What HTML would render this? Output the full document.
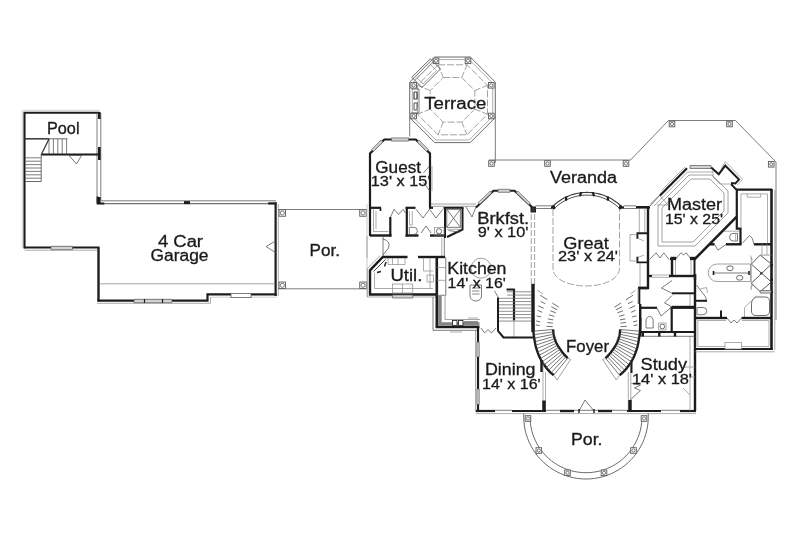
<!DOCTYPE html>
<html><head><meta charset="utf-8"><title>Floor Plan</title>
<style>
html,body{margin:0;padding:0;background:#fff;}
body{width:800px;height:535px;overflow:hidden;}
svg{display:block;filter:blur(0.35px);}
text{font-family:"Liberation Sans",sans-serif;fill:#1a1a1a;stroke:#1a1a1a;stroke-width:0.3px;}
</style></head><body>
<svg width="800" height="535" viewBox="0 0 800 535">
<rect width="800" height="535" fill="#ffffff"/>
<polyline points="24.50,248.50 24.50,112.70 99.50,112.70" fill="none" stroke="#1c1c1c" stroke-width="2.1" stroke-linejoin="miter"/>
<polyline points="22.30,248.00 22.30,110.30 100.00,110.30" fill="none" stroke="#c0c0c0" stroke-width="0.7"/>
<polyline points="97.00,113.00 97.00,203.00" fill="none" stroke="#5a5a5a" stroke-width="0.8"/>
<polyline points="100.80,113.00 100.80,200.00" fill="none" stroke="#5a5a5a" stroke-width="0.8"/>
<polyline points="99.30,112.00 99.30,119.00" fill="none" stroke="#1c1c1c" stroke-width="2.6" stroke-linejoin="miter"/>
<polyline points="99.30,147.00 99.30,160.00" fill="none" stroke="#1c1c1c" stroke-width="2.6" stroke-linejoin="miter"/>
<polyline points="99.30,197.00 99.30,204.00" fill="none" stroke="#1c1c1c" stroke-width="2.6" stroke-linejoin="miter"/>
<polyline points="41.00,154.50 99.50,154.50" fill="none" stroke="#1c1c1c" stroke-width="2.2" stroke-linejoin="miter"/>
<polyline points="24.50,138.80 67.50,138.80" fill="none" stroke="#5a5a5a" stroke-width="0.9"/>
<polyline points="25.00,138.80 49.00,138.80" fill="none" stroke="#333" stroke-width="1.3" stroke-linejoin="miter"/>
<polyline points="49.00,139.00 49.00,154.00" fill="none" stroke="#5a5a5a" stroke-width="0.8"/>
<polyline points="53.40,139.00 53.40,154.00" fill="none" stroke="#5a5a5a" stroke-width="0.8"/>
<polyline points="57.80,139.00 57.80,154.00" fill="none" stroke="#5a5a5a" stroke-width="0.8"/>
<polyline points="62.20,139.00 62.20,154.00" fill="none" stroke="#5a5a5a" stroke-width="0.8"/>
<polyline points="66.60,139.00 66.60,154.00" fill="none" stroke="#5a5a5a" stroke-width="0.8"/>
<polyline points="41.50,154.00 49.00,139.00" fill="none" stroke="#333" stroke-width="1.2"/>
<polyline points="41.20,154.00 41.20,181.50" fill="none" stroke="#5a5a5a" stroke-width="0.9"/>
<polyline points="25.00,181.50 41.20,181.50" fill="none" stroke="#5a5a5a" stroke-width="0.9"/>
<polyline points="25.50,157.80 41.00,157.80" fill="none" stroke="#5a5a5a" stroke-width="0.8"/>
<polyline points="25.50,161.20 41.00,161.20" fill="none" stroke="#5a5a5a" stroke-width="0.8"/>
<polyline points="25.50,164.60 41.00,164.60" fill="none" stroke="#5a5a5a" stroke-width="0.8"/>
<polyline points="25.50,168.00 41.00,168.00" fill="none" stroke="#5a5a5a" stroke-width="0.8"/>
<polyline points="25.50,171.40 41.00,171.40" fill="none" stroke="#5a5a5a" stroke-width="0.8"/>
<polyline points="25.50,174.80 41.00,174.80" fill="none" stroke="#5a5a5a" stroke-width="0.8"/>
<polyline points="25.50,178.20 41.00,178.20" fill="none" stroke="#5a5a5a" stroke-width="0.8"/>
<polyline points="69.00,155.50 81.50,155.50 76.50,164.00 69.00,155.50" fill="none" stroke="#5a5a5a" stroke-width="0.8"/>
<polyline points="100.00,200.80 276.00,200.80" fill="none" stroke="#5a5a5a" stroke-width="0.8"/>
<polyline points="100.00,203.60 276.00,203.60" fill="none" stroke="#707070" stroke-width="1.3"/>
<polyline points="97.60,196.50 97.60,203.40 104.30,203.40" fill="none" stroke="#1c1c1c" stroke-width="2.0" stroke-linejoin="miter"/>
<polyline points="184.00,202.60 190.00,202.60" fill="none" stroke="#1c1c1c" stroke-width="3" stroke-linejoin="miter"/>
<polyline points="268.20,203.40 276.60,203.40" fill="none" stroke="#1c1c1c" stroke-width="2.2" stroke-linejoin="miter"/>
<polyline points="275.60,202.50 275.60,296.00" fill="none" stroke="#1c1c1c" stroke-width="2.2" stroke-linejoin="miter"/>
<polyline points="278.30,204.00 278.30,296.00" fill="none" stroke="#8a8a8a" stroke-width="0.7"/>
<polyline points="276.70,294.40 251.00,294.40" fill="none" stroke="#1c1c1c" stroke-width="2.2" stroke-linejoin="miter"/>
<polyline points="231.00,294.40 207.50,294.40 207.50,300.60 97.50,300.60" fill="none" stroke="#1c1c1c" stroke-width="2.2" stroke-linejoin="miter"/>
<polyline points="98.50,301.50 98.50,247.50" fill="none" stroke="#1c1c1c" stroke-width="2.4" stroke-linejoin="miter"/>
<polyline points="24.50,247.50 99.50,247.50" fill="none" stroke="#1c1c1c" stroke-width="2.2" stroke-linejoin="miter"/>
<polyline points="24.50,250.20 97.00,250.20" fill="none" stroke="#8a8a8a" stroke-width="0.7"/>
<polyline points="97.00,303.30 210.50,303.30 210.50,297.00" fill="none" stroke="#8a8a8a" stroke-width="0.7"/>
<polyline points="211.00,297.20 231.00,297.20" fill="none" stroke="#bbb" stroke-width="0.7"/>
<polyline points="251.00,297.20 277.00,297.20" fill="none" stroke="#bbb" stroke-width="0.7"/>
<polygon points="51.00,249.70 72.50,249.70 72.50,246.30 51.00,246.30" fill="#d2d2d2" stroke="#5a5a5a" stroke-width="0.7"/>
<polygon points="134.00,302.70 172.00,302.70 172.00,299.30 134.00,299.30" fill="#d2d2d2" stroke="#5a5a5a" stroke-width="0.7"/>
<polyline points="144.50,299.00 144.50,303.00" fill="none" stroke="#1c1c1c" stroke-width="1.2"/>
<polyline points="162.50,299.00 162.50,303.00" fill="none" stroke="#1c1c1c" stroke-width="1.2"/>
<rect x="231" y="293.6" width="20" height="4.0" fill="#fff" stroke="#5a5a5a" stroke-width="0.8"/>
<polyline points="99.50,283.80 275.00,283.80" fill="none" stroke="#8a8a8a" stroke-width="0.8"/>
<polyline points="275.50,241.00 266.00,246.50 275.50,252.50" fill="none" stroke="#5a5a5a" stroke-width="0.8"/>
<text x="158" y="247.4" font-size="16" textLength="45" lengthAdjust="spacingAndGlyphs">4 Car</text>
<text x="150.5" y="261.2" font-size="16" textLength="58.0" lengthAdjust="spacingAndGlyphs">Garage</text>
<text x="47" y="133.8" font-size="16" textLength="32.5" lengthAdjust="spacingAndGlyphs">Pool</text>
<polyline points="278.00,209.50 367.00,209.50" fill="none" stroke="#5a5a5a" stroke-width="0.8"/>
<polyline points="278.00,288.80 367.00,288.80" fill="none" stroke="#5a5a5a" stroke-width="0.8"/>
<rect x="279.05" y="209.75" width="6.5" height="6.5" fill="#fff" stroke="#5a5a5a" stroke-width="0.9"/>
<circle cx="282.30" cy="213.00" r="2.05" fill="none" stroke="#5a5a5a" stroke-width="0.8"/>
<rect x="359.75" y="209.75" width="6.5" height="6.5" fill="#fff" stroke="#5a5a5a" stroke-width="0.9"/>
<circle cx="363.00" cy="213.00" r="2.05" fill="none" stroke="#5a5a5a" stroke-width="0.8"/>
<rect x="279.05" y="282.05" width="6.5" height="6.5" fill="#fff" stroke="#5a5a5a" stroke-width="0.9"/>
<circle cx="282.30" cy="285.30" r="2.05" fill="none" stroke="#5a5a5a" stroke-width="0.8"/>
<rect x="359.75" y="282.05" width="6.5" height="6.5" fill="#fff" stroke="#5a5a5a" stroke-width="0.9"/>
<circle cx="363.00" cy="285.30" r="2.05" fill="none" stroke="#5a5a5a" stroke-width="0.8"/>
<polyline points="367.00,204.00 367.00,297.00" fill="none" stroke="#b5b5b5" stroke-width="0.7"/>
<text x="309.6" y="256.1" font-size="16" textLength="30.399999999999977" lengthAdjust="spacingAndGlyphs">Por.</text>
<polygon points="434.77,57.00 470.23,57.00 495.30,82.07 495.30,117.53 470.23,142.60 434.77,142.60 409.70,117.53 409.70,82.07" fill="none" stroke="#5a5a5a" stroke-width="0.9"/>
<polygon points="435.85,59.60 469.15,59.60 492.70,83.15 492.70,116.45 469.15,140.00 435.85,140.00 412.30,116.45 412.30,83.15" fill="none" stroke="#8a8a8a" stroke-width="0.7"/>
<polygon points="438.00,64.80 467.00,64.80 487.50,85.30 487.50,114.30 467.00,134.80 438.00,134.80 417.50,114.30 417.50,85.30" fill="none" stroke="#8a8a8a" stroke-width="0.8" stroke-dasharray="7 2"/>
<polygon points="443.26,77.50 461.74,77.50 474.80,90.56 474.80,109.04 461.74,122.10 443.26,122.10 430.20,109.04 430.20,90.56" fill="none" stroke="#8a8a8a" stroke-width="0.8" stroke-dasharray="7 2"/>
<polyline points="443.26,77.50 438.00,64.80" fill="none" stroke="#8a8a8a" stroke-width="0.8" stroke-dasharray="6 2"/>
<polyline points="461.74,77.50 467.00,64.80" fill="none" stroke="#8a8a8a" stroke-width="0.8" stroke-dasharray="6 2"/>
<polyline points="474.80,90.56 487.50,85.30" fill="none" stroke="#8a8a8a" stroke-width="0.8" stroke-dasharray="6 2"/>
<polyline points="474.80,109.04 487.50,114.30" fill="none" stroke="#8a8a8a" stroke-width="0.8" stroke-dasharray="6 2"/>
<polyline points="461.74,122.10 467.00,134.80" fill="none" stroke="#8a8a8a" stroke-width="0.8" stroke-dasharray="6 2"/>
<polyline points="443.26,122.10 438.00,134.80" fill="none" stroke="#8a8a8a" stroke-width="0.8" stroke-dasharray="6 2"/>
<polyline points="430.20,109.04 417.50,114.30" fill="none" stroke="#8a8a8a" stroke-width="0.8" stroke-dasharray="6 2"/>
<polyline points="430.20,90.56 417.50,85.30" fill="none" stroke="#8a8a8a" stroke-width="0.8" stroke-dasharray="6 2"/>
<rect x="433.20" y="58.00" width="5.6" height="5.6" fill="#fff" stroke="#5a5a5a" stroke-width="0.9"/>
<circle cx="436.00" cy="60.80" r="1.60" fill="none" stroke="#5a5a5a" stroke-width="0.8"/>
<rect x="465.20" y="58.00" width="5.6" height="5.6" fill="#fff" stroke="#5a5a5a" stroke-width="0.9"/>
<circle cx="468.00" cy="60.80" r="1.60" fill="none" stroke="#5a5a5a" stroke-width="0.8"/>
<rect x="488.50" y="82.50" width="5.6" height="5.6" fill="#fff" stroke="#5a5a5a" stroke-width="0.9"/>
<circle cx="491.30" cy="85.30" r="1.60" fill="none" stroke="#5a5a5a" stroke-width="0.8"/>
<rect x="488.50" y="113.20" width="5.6" height="5.6" fill="#fff" stroke="#5a5a5a" stroke-width="0.9"/>
<circle cx="491.30" cy="116.00" r="1.60" fill="none" stroke="#5a5a5a" stroke-width="0.8"/>
<rect x="410.90" y="82.50" width="5.6" height="5.6" fill="#fff" stroke="#5a5a5a" stroke-width="0.9"/>
<circle cx="413.70" cy="85.30" r="1.60" fill="none" stroke="#5a5a5a" stroke-width="0.8"/>
<rect x="410.90" y="113.20" width="5.6" height="5.6" fill="#fff" stroke="#5a5a5a" stroke-width="0.9"/>
<circle cx="413.70" cy="116.00" r="1.60" fill="none" stroke="#5a5a5a" stroke-width="0.8"/>
<polygon points="411.80,77.30 430.30,58.80 440.50,69.00 422.00,87.50" fill="none" stroke="#5a5a5a" stroke-width="0.9"/>
<polygon points="417.00,78.00 430.50,64.50 436.50,70.50 423.00,84.00" fill="none" stroke="#8a8a8a" stroke-width="0.7"/>
<polyline points="414.50,80.00 419.50,75.00" fill="none" stroke="#8a8a8a" stroke-width="0.7"/>
<polyline points="433.00,61.50 428.00,66.50" fill="none" stroke="#8a8a8a" stroke-width="0.7"/>
<polyline points="411.50,89.00 419.00,89.00 419.00,113.00 411.50,113.00" fill="none" stroke="#5a5a5a" stroke-width="0.8"/>
<polyline points="414.00,92.00 417.00,92.00 417.00,99.00 414.00,99.00 414.00,92.00" fill="none" stroke="#444" stroke-width="1.2"/>
<polyline points="414.00,103.00 417.00,103.00 417.00,110.00 414.00,110.00 414.00,103.00" fill="none" stroke="#555" stroke-width="1.0"/>
<polyline points="409.70,117.00 409.70,136.50" fill="none" stroke="#5a5a5a" stroke-width="0.8"/>
<polyline points="495.30,117.00 495.30,163.00" fill="none" stroke="#5a5a5a" stroke-width="0.8"/>
<text x="424.3" y="109" font-size="16" textLength="62.0" lengthAdjust="spacingAndGlyphs">Terrace</text>
<polyline points="489.00,160.00 630.50,160.00 668.50,120.50 735.50,120.50 776.00,162.00 776.00,320.00" fill="none" stroke="#5a5a5a" stroke-width="0.8"/>
<rect x="488.70" y="160.70" width="5.6" height="5.6" fill="#fff" stroke="#5a5a5a" stroke-width="0.9"/>
<circle cx="491.50" cy="163.50" r="1.60" fill="none" stroke="#5a5a5a" stroke-width="0.8"/>
<rect x="544.70" y="160.70" width="5.6" height="5.6" fill="#fff" stroke="#5a5a5a" stroke-width="0.9"/>
<circle cx="547.50" cy="163.50" r="1.60" fill="none" stroke="#5a5a5a" stroke-width="0.8"/>
<rect x="623.20" y="160.70" width="5.6" height="5.6" fill="#fff" stroke="#5a5a5a" stroke-width="0.9"/>
<circle cx="626.00" cy="163.50" r="1.60" fill="none" stroke="#5a5a5a" stroke-width="0.8"/>
<rect x="669.20" y="121.20" width="5.6" height="5.6" fill="#fff" stroke="#5a5a5a" stroke-width="0.9"/>
<circle cx="672.00" cy="124.00" r="1.60" fill="none" stroke="#5a5a5a" stroke-width="0.8"/>
<rect x="726.70" y="121.20" width="5.6" height="5.6" fill="#fff" stroke="#5a5a5a" stroke-width="0.9"/>
<circle cx="729.50" cy="124.00" r="1.60" fill="none" stroke="#5a5a5a" stroke-width="0.8"/>
<rect x="768.40" y="161.50" width="5.6" height="5.6" fill="#fff" stroke="#5a5a5a" stroke-width="0.9"/>
<circle cx="771.20" cy="164.30" r="1.60" fill="none" stroke="#5a5a5a" stroke-width="0.8"/>
<text x="550" y="183" font-size="16" textLength="67" lengthAdjust="spacingAndGlyphs">Veranda</text>
<polyline points="370.00,236.00 370.00,153.50 384.30,139.50 391.50,139.50" fill="none" stroke="#1c1c1c" stroke-width="2.2" stroke-linejoin="miter"/>
<polyline points="408.50,139.50 415.80,139.50 430.00,153.50 430.00,207.50" fill="none" stroke="#1c1c1c" stroke-width="2.2" stroke-linejoin="miter"/>
<polygon points="391.50,141.10 408.50,141.10 408.50,137.90 391.50,137.90" fill="#d2d2d2" stroke="#5a5a5a" stroke-width="0.7"/>
<polygon points="373.42,151.42 382.92,141.92 381.08,140.08 371.58,149.58" fill="#d2d2d2" stroke="#5a5a5a" stroke-width="0.7"/>
<polygon points="417.08,141.92 426.58,151.42 428.42,149.58 418.92,140.08" fill="#d2d2d2" stroke="#5a5a5a" stroke-width="0.7"/>
<polyline points="429.50,166.00 423.50,172.80" fill="none" stroke="#5a5a5a" stroke-width="0.8"/>
<polyline points="423.50,182.50 429.50,190.80" fill="none" stroke="#5a5a5a" stroke-width="0.8"/>
<polyline points="432.00,166.00 432.00,191.00" fill="none" stroke="#8a8a8a" stroke-width="0.7"/>
<text x="375.3" y="173" font-size="16" textLength="45.69999999999999" lengthAdjust="spacingAndGlyphs">Guest</text>
<text x="370.8" y="186" font-size="14.3" textLength="59.69999999999999" lengthAdjust="spacingAndGlyphs">13' x 15'</text>
<polyline points="369.00,207.80 381.00,207.80" fill="none" stroke="#1c1c1c" stroke-width="2.2" stroke-linejoin="miter"/>
<polyline points="380.50,207.80 380.50,211.00" fill="none" stroke="#1c1c1c" stroke-width="1.6" stroke-linejoin="miter"/>
<polyline points="405.50,207.80 415.50,207.80" fill="none" stroke="#1c1c1c" stroke-width="2.2" stroke-linejoin="miter"/>
<polyline points="429.00,207.80 433.00,207.80" fill="none" stroke="#1c1c1c" stroke-width="2.2" stroke-linejoin="miter"/>
<polyline points="443.50,207.80 463.50,207.80" fill="none" stroke="#1c1c1c" stroke-width="2.0" stroke-linejoin="miter"/>
<polyline points="370.00,235.50 391.50,235.50" fill="none" stroke="#1c1c1c" stroke-width="2.4" stroke-linejoin="miter"/>
<polyline points="390.30,217.00 390.30,236.50" fill="none" stroke="#1c1c1c" stroke-width="2.2" stroke-linejoin="miter"/>
<polyline points="406.80,207.80 406.80,236.50" fill="none" stroke="#1c1c1c" stroke-width="2.2" stroke-linejoin="miter"/>
<polyline points="405.50,235.50 418.50,235.50" fill="none" stroke="#1c1c1c" stroke-width="2.4" stroke-linejoin="miter"/>
<polyline points="430.00,235.50 446.00,235.50" fill="none" stroke="#1c1c1c" stroke-width="2.4" stroke-linejoin="miter"/>
<polyline points="445.00,207.80 445.00,238.00" fill="none" stroke="#1c1c1c" stroke-width="2.0" stroke-linejoin="miter"/>
<polyline points="462.50,207.80 462.50,229.50 447.00,237.00" fill="none" stroke="#1c1c1c" stroke-width="2.0" stroke-linejoin="miter"/>
<polyline points="373.50,209.00 373.50,231.50 388.50,231.50" fill="none" stroke="#8a8a8a" stroke-width="0.7"/>
<polyline points="376.00,211.00 376.00,229.00" fill="none" stroke="#8a8a8a" stroke-width="0.7"/>
<polyline points="390.30,217.50 394.00,209.30 398.50,214.50 403.00,209.30 405.50,213.00" fill="none" stroke="#5a5a5a" stroke-width="0.8"/>
<polyline points="416.00,209.30 423.00,218.00 429.50,209.30 436.00,218.00 443.00,209.30" fill="none" stroke="#5a5a5a" stroke-width="0.8"/>
<polyline points="421.00,233.00 426.00,226.00 431.00,233.00" fill="none" stroke="#5a5a5a" stroke-width="0.8"/>
<polyline points="409.50,211.00 409.50,225.00 412.30,225.00 412.30,211.00" fill="none" stroke="#8a8a8a" stroke-width="0.7"/>
<path d="M409.3 227.3 h4.5 a3.6 3.6 0 0 1 0 7.2 h-4.5 z" fill="none" stroke="#5a5a5a" stroke-width="0.8"/>
<circle cx="439" cy="231.3" r="2.6" fill="none" stroke="#5a5a5a" stroke-width="0.9"/>
<rect x="434.5" y="227.5" width="9.5" height="7.5" fill="none" stroke="#8a8a8a" stroke-width="0.7"/>
<rect x="446.8" y="209.3" width="13.5" height="18.0" fill="none" stroke="#5a5a5a" stroke-width="0.8"/>
<polyline points="446.80,209.30 460.30,227.30" fill="none" stroke="#5a5a5a" stroke-width="0.8"/>
<polyline points="460.30,209.30 446.80,227.30" fill="none" stroke="#5a5a5a" stroke-width="0.8"/>
<polyline points="448.50,230.50 460.00,232.20" fill="none" stroke="#5a5a5a" stroke-width="0.8"/>
<polyline points="447.00,229.30 461.50,229.30" fill="none" stroke="#8a8a8a" stroke-width="0.7"/>
<polyline points="367.00,236.00 367.00,258.00" fill="none" stroke="#8a8a8a" stroke-width="0.7"/>
<polyline points="383.00,237.00 383.00,256.00" fill="none" stroke="#5a5a5a" stroke-width="0.8"/>
<path d="M383 239 Q391 241 388.5 248 L383 255" fill="none" stroke="#5a5a5a" stroke-width="0.8"/>
<polyline points="444.30,238.00 444.30,256.50" fill="none" stroke="#5a5a5a" stroke-width="0.8"/>
<polyline points="441.80,238.00 441.80,256.50" fill="none" stroke="#8a8a8a" stroke-width="0.7"/>
<polyline points="407.50,257.00 382.80,257.00 370.00,270.30 370.00,294.50 437.50,294.50" fill="none" stroke="#1c1c1c" stroke-width="2.4" stroke-linejoin="miter"/>
<polyline points="418.00,257.00 445.00,257.00" fill="none" stroke="#1c1c1c" stroke-width="2.4" stroke-linejoin="miter"/>
<polyline points="380.00,255.50 367.30,268.50 367.30,297.00 436.00,297.00" fill="none" stroke="#8a8a8a" stroke-width="0.7"/>
<polyline points="374.50,273.00 374.50,288.50 433.00,288.50" fill="none" stroke="#8a8a8a" stroke-width="0.7"/>
<polyline points="385.50,259.50 373.50,271.50" fill="none" stroke="#444" stroke-width="1.0"/>
<polyline points="386.00,262.00 384.50,266.50" fill="none" stroke="#1c1c1c" stroke-width="1.4" stroke-linejoin="miter"/>
<polyline points="377.00,272.50 381.00,271.50" fill="none" stroke="#1c1c1c" stroke-width="1.4" stroke-linejoin="miter"/>
<rect x="392.5" y="284" width="20.30000000000001" height="9" fill="none" stroke="#8a8a8a" stroke-width="0.7"/>
<polyline points="402.50,284.00 402.50,293.00" fill="none" stroke="#8a8a8a" stroke-width="0.7"/>
<polygon points="392.50,298.00 412.80,298.00 412.80,295.00 392.50,295.00" fill="#d2d2d2" stroke="#5a5a5a" stroke-width="0.7"/>
<polyline points="388.00,258.00 388.00,264.50 405.00,264.50 405.00,258.00" fill="none" stroke="#8a8a8a" stroke-width="0.7"/>
<polyline points="392.50,258.00 392.50,264.50" fill="none" stroke="#8a8a8a" stroke-width="0.7"/>
<polyline points="398.00,258.00 398.00,264.50" fill="none" stroke="#8a8a8a" stroke-width="0.7"/>
<polyline points="423.50,258.00 423.50,271.00 433.50,271.00" fill="none" stroke="#8a8a8a" stroke-width="0.7"/>
<polyline points="430.00,258.00 430.00,288.00" fill="none" stroke="#8a8a8a" stroke-width="0.7"/>
<polyline points="427.00,275.00 433.50,275.00 433.50,282.00 427.00,282.00 427.00,275.00" fill="none" stroke="#8a8a8a" stroke-width="0.7"/>
<text x="390.5" y="281.2" font-size="16" textLength="31.80000000000001" lengthAdjust="spacingAndGlyphs">Util.</text>
<polyline points="436.80,256.00 436.80,327.00 479.50,327.00" fill="none" stroke="#1c1c1c" stroke-width="2.6" stroke-linejoin="miter"/>
<polyline points="433.00,297.00 433.00,330.30 478.00,330.30" fill="none" stroke="#5a5a5a" stroke-width="0.8"/>
<polyline points="439.90,296.00 439.90,324.00 479.50,324.00" fill="none" stroke="#858585" stroke-width="3.6"/>
<polyline points="445.80,257.00 445.80,295.30 437.00,295.30" fill="none" stroke="#5a5a5a" stroke-width="0.8"/>
<polyline points="437.00,267.50 445.80,267.50" fill="none" stroke="#8a8a8a" stroke-width="0.7"/>
<polyline points="437.00,280.30 445.80,280.30" fill="none" stroke="#8a8a8a" stroke-width="0.7"/>
<polyline points="445.00,296.00 445.00,319.50 480.00,319.50" fill="none" stroke="#8a8a8a" stroke-width="0.8"/>
<rect x="452.5" y="320.5" width="4.5" height="5.0" fill="#fff" stroke="#1c1c1c" stroke-width="0.8"/>
<rect x="458.5" y="320.5" width="4.5" height="5.0" fill="#fff" stroke="#1c1c1c" stroke-width="0.8"/>
<polyline points="464.00,322.00 478.00,322.00" fill="none" stroke="#777" stroke-width="1.6"/>
<polyline points="468.00,318.00 478.00,318.00" fill="none" stroke="#8a8a8a" stroke-width="0.7"/>
<polyline points="450.00,332.00 462.00,332.00" fill="none" stroke="#8a8a8a" stroke-width="0.7"/>
<circle cx="481" cy="268.2" r="10" fill="none" stroke="#8a8a8a" stroke-width="0.8"/>
<path d="M470 285 h11.5 v11 a5.75 5 0 0 1 -11.5 0 z" fill="none" stroke="#5a5a5a" stroke-width="0.8"/>
<polyline points="472.00,288.00 479.50,288.00" fill="none" stroke="#5a5a5a" stroke-width="0.7"/>
<polyline points="472.00,291.00 479.50,291.00" fill="none" stroke="#5a5a5a" stroke-width="0.7"/>
<polyline points="472.00,294.00 479.50,294.00" fill="none" stroke="#5a5a5a" stroke-width="0.7"/>
<text x="447.3" y="273.5" font-size="16" textLength="59.19999999999999" lengthAdjust="spacingAndGlyphs">Kitchen</text>
<text x="447.6" y="287.6" font-size="14.3" textLength="58.19999999999999" lengthAdjust="spacingAndGlyphs">14' x 16'</text>
<polyline points="431.00,204.00 476.00,204.00" fill="none" stroke="#8a8a8a" stroke-width="0.8"/>
<polyline points="431.00,206.30 476.00,206.30" fill="none" stroke="#8a8a8a" stroke-width="0.8"/>
<polyline points="466.00,207.00 472.00,217.00 476.00,207.00" fill="none" stroke="#5a5a5a" stroke-width="0.8"/>
<polyline points="476.00,207.50 493.50,190.80 498.00,190.80" fill="none" stroke="#1c1c1c" stroke-width="2.0" stroke-linejoin="miter"/>
<polyline points="510.00,190.80 514.50,190.80 533.00,208.00" fill="none" stroke="#1c1c1c" stroke-width="2.0" stroke-linejoin="miter"/>
<polygon points="498.00,192.30 510.00,192.30 510.00,189.30 498.00,189.30" fill="#d2d2d2" stroke="#5a5a5a" stroke-width="0.7"/>
<polygon points="479.83,204.37 491.83,192.87 490.17,191.13 478.17,202.63" fill="#d2d2d2" stroke="#5a5a5a" stroke-width="0.7"/>
<polygon points="516.17,192.87 528.67,204.87 530.33,203.13 517.83,191.13" fill="#d2d2d2" stroke="#5a5a5a" stroke-width="0.7"/>
<rect x="531" y="207" width="4.5" height="5" fill="#333" stroke="#1c1c1c" stroke-width="1"/>
<polyline points="535.50,205.80 552.00,205.80" fill="none" stroke="#5a5a5a" stroke-width="0.8"/>
<polyline points="535.50,208.50 552.00,208.50" fill="none" stroke="#5a5a5a" stroke-width="0.8"/>
<text x="477.2" y="224" font-size="16" textLength="52.00000000000006" lengthAdjust="spacingAndGlyphs">Brkfst.</text>
<text x="477.8" y="237.1" font-size="14.3" textLength="50.49999999999994" lengthAdjust="spacingAndGlyphs">9' x 10'</text>
<polyline points="531.30,214.00 531.30,284.00" fill="none" stroke="#8a8a8a" stroke-width="0.8" stroke-dasharray="6 2"/>
<polyline points="534.60,214.00 534.60,284.00" fill="none" stroke="#8a8a8a" stroke-width="0.8" stroke-dasharray="6 2"/>
<polyline points="552.01,207.01 553.88,205.21 555.85,203.52 557.90,201.93 560.03,200.45 562.24,199.09 564.51,197.84 566.85,196.72 569.25,195.72 571.69,194.84 574.18,194.10 576.70,193.49 579.25,193.01 581.82,192.67 584.41,192.47 587.00,192.40 589.59,192.47 592.18,192.67 594.75,193.01 597.30,193.49 599.82,194.10 602.31,194.84 604.75,195.72 607.15,196.72 609.49,197.84 611.76,199.09 613.97,200.45 616.10,201.93 618.15,203.52 620.12,205.21 621.99,207.01" fill="none" stroke="#3a3a3a" stroke-width="1.1"/>
<polyline points="554.51,208.34 556.26,206.71 558.10,205.17 560.02,203.73 562.01,202.39 564.06,201.15 566.18,200.02 568.35,199.00 570.57,198.10 572.84,197.31 575.14,196.64 577.47,196.09 579.83,195.66 582.21,195.35 584.60,195.16 587.00,195.10 589.40,195.16 591.79,195.35 594.17,195.66 596.53,196.09 598.86,196.64 601.16,197.31 603.43,198.10 605.65,199.00 607.82,200.02 609.94,201.15 611.99,202.39 613.98,203.73 615.90,205.17 617.74,206.71 619.49,208.34" fill="none" stroke="#4a4a4a" stroke-width="1.0"/>
<polyline points="554.29,209.26 553.28,205.22" fill="none" stroke="#1c1c1c" stroke-width="2.2" stroke-linejoin="miter"/>
<polyline points="565.98,200.69 566.28,196.54" fill="none" stroke="#1c1c1c" stroke-width="2.2" stroke-linejoin="miter"/>
<polyline points="579.75,196.17 581.33,192.33" fill="none" stroke="#1c1c1c" stroke-width="2.2" stroke-linejoin="miter"/>
<polyline points="594.25,196.17 592.67,192.33" fill="none" stroke="#1c1c1c" stroke-width="2.2" stroke-linejoin="miter"/>
<polyline points="608.02,200.69 607.72,196.54" fill="none" stroke="#1c1c1c" stroke-width="2.2" stroke-linejoin="miter"/>
<polyline points="619.71,209.26 620.72,205.22" fill="none" stroke="#1c1c1c" stroke-width="2.2" stroke-linejoin="miter"/>
<polyline points="551.00,207.50 555.00,207.50" fill="none" stroke="#1c1c1c" stroke-width="2.4" stroke-linejoin="miter"/>
<polyline points="619.00,207.50 624.00,207.50" fill="none" stroke="#1c1c1c" stroke-width="2.4" stroke-linejoin="miter"/>
<polyline points="624.00,205.80 636.00,205.80" fill="none" stroke="#5a5a5a" stroke-width="0.8"/>
<polyline points="624.00,208.50 636.00,208.50" fill="none" stroke="#5a5a5a" stroke-width="0.8"/>
<polyline points="636.00,207.30 650.00,207.30" fill="none" stroke="#1c1c1c" stroke-width="2.6" stroke-linejoin="miter"/>
<path d="M553 209 V268 C553 280 570 286 586.2 286 C602 286 619.5 280 619.5 268 V209" fill="none" stroke="#8a8a8a" stroke-width="0.8" stroke-dasharray="7 2"/>
<text x="563.3" y="249" font-size="16" textLength="45.5" lengthAdjust="spacingAndGlyphs">Great</text>
<text x="558" y="261" font-size="14.3" textLength="60" lengthAdjust="spacingAndGlyphs">23' x 24'</text>
<polyline points="648.00,206.50 648.00,288.00 638.00,288.00" fill="none" stroke="#1c1c1c" stroke-width="2.4" stroke-linejoin="miter"/>
<polyline points="639.30,209.00 639.30,232.00" fill="none" stroke="#8a8a8a" stroke-width="0.7"/>
<polyline points="644.80,209.00 644.80,232.00" fill="none" stroke="#8a8a8a" stroke-width="0.7"/>
<polyline points="648.00,233.20 637.40,233.20 637.40,238.80" fill="none" stroke="#1c1c1c" stroke-width="1.9" stroke-linejoin="miter"/>
<polyline points="638.50,238.50 644.00,241.00" fill="none" stroke="#8a8a8a" stroke-width="0.7"/>
<polyline points="638.50,257.00 644.00,255.30" fill="none" stroke="#8a8a8a" stroke-width="0.7"/>
<polyline points="637.40,256.80 637.40,262.40 648.00,262.40" fill="none" stroke="#1c1c1c" stroke-width="1.9" stroke-linejoin="miter"/>
<polyline points="637.40,234.60 630.00,234.60 630.00,261.00 637.40,261.00" fill="none" stroke="#8a8a8a" stroke-width="0.7"/>
<polyline points="640.00,263.00 640.00,288.00" fill="none" stroke="#8a8a8a" stroke-width="0.7"/>
<polyline points="533.00,283.80 533.00,332.00" fill="none" stroke="#1c1c1c" stroke-width="3.4" stroke-linejoin="miter"/>
<polyline points="506.50,289.50 514.80,289.50" fill="none" stroke="#1c1c1c" stroke-width="2.0" stroke-linejoin="miter"/>
<polyline points="514.00,289.00 514.00,320.50" fill="none" stroke="#1c1c1c" stroke-width="2.2" stroke-linejoin="miter"/>
<polyline points="514.00,320.50 514.00,337.50" fill="none" stroke="#8a8a8a" stroke-width="0.7"/>
<polyline points="494.50,290.80 498.30,297.50" fill="none" stroke="#5a5a5a" stroke-width="0.8"/>
<polyline points="498.00,297.50 498.00,330.80 503.50,337.50 533.50,337.50" fill="none" stroke="#1c1c1c" stroke-width="2.0" stroke-linejoin="miter"/>
<polyline points="507.00,291.80 531.50,291.80" fill="none" stroke="#6a6a6a" stroke-width="0.75"/>
<polyline points="507.00,295.05 531.50,295.05" fill="none" stroke="#6a6a6a" stroke-width="0.75"/>
<polyline points="499.00,298.30 531.50,298.30" fill="none" stroke="#6a6a6a" stroke-width="0.75"/>
<polyline points="499.00,301.55 531.50,301.55" fill="none" stroke="#6a6a6a" stroke-width="0.75"/>
<polyline points="499.00,304.80 531.50,304.80" fill="none" stroke="#6a6a6a" stroke-width="0.75"/>
<polyline points="499.00,308.05 531.50,308.05" fill="none" stroke="#6a6a6a" stroke-width="0.75"/>
<polyline points="499.00,311.30 531.50,311.30" fill="none" stroke="#6a6a6a" stroke-width="0.75"/>
<polyline points="499.00,314.55 531.50,314.55" fill="none" stroke="#6a6a6a" stroke-width="0.75"/>
<polyline points="499.00,317.80 531.50,317.80" fill="none" stroke="#6a6a6a" stroke-width="0.75"/>
<polyline points="499.00,321.05 531.50,321.05" fill="none" stroke="#6a6a6a" stroke-width="0.75"/>
<polyline points="481.00,328.00 484.50,333.00 488.00,329.50 491.50,333.00 496.00,328.00" fill="none" stroke="#5a5a5a" stroke-width="0.8"/>
<polyline points="478.00,327.00 478.00,342.00" fill="none" stroke="#1c1c1c" stroke-width="2.2" stroke-linejoin="miter"/>
<polygon points="476.80,342.00 476.80,357.00 479.20,357.00 479.20,342.00" fill="#d2d2d2" stroke="#5a5a5a" stroke-width="0.7"/>
<polyline points="478.00,357.00 478.00,389.00" fill="none" stroke="#1c1c1c" stroke-width="2.2" stroke-linejoin="miter"/>
<polygon points="476.80,389.00 476.80,404.50 479.20,404.50 479.20,389.00" fill="#d2d2d2" stroke="#5a5a5a" stroke-width="0.7"/>
<polyline points="478.00,404.50 478.00,412.00" fill="none" stroke="#1c1c1c" stroke-width="2.2" stroke-linejoin="miter"/>
<polyline points="475.50,330.00 475.50,412.00" fill="none" stroke="#8a8a8a" stroke-width="0.7"/>
<text x="485" y="374.6" font-size="16" textLength="50.5" lengthAdjust="spacingAndGlyphs">Dining</text>
<text x="482" y="388.8" font-size="14.3" textLength="58.60000000000002" lengthAdjust="spacingAndGlyphs">14' x 16'</text>
<polyline points="533.00,318.00 533.10,325.00 533.30,331.20 533.30,331.20 533.34,331.52 533.39,331.92 533.45,332.38 533.51,332.90 533.58,333.47 533.65,334.07 533.73,334.70 533.81,335.36 533.90,336.02 534.00,336.69 534.10,337.35 534.20,338.00 534.31,338.65 534.41,339.32 534.52,340.01 534.64,340.71 534.76,341.43 534.88,342.16 535.01,342.89 535.15,343.62 535.30,344.35 535.46,345.08 535.62,345.79 535.80,346.50 535.99,347.20 536.19,347.92 536.41,348.63 536.63,349.35 536.86,350.06 537.10,350.77 537.34,351.48 537.59,352.17 537.84,352.86 538.10,353.52 538.35,354.17 538.60,354.80 538.85,355.41 539.10,356.00 539.35,356.57 539.61,357.13 539.86,357.67 540.12,358.21 540.39,358.73 540.66,359.25 540.93,359.77 541.22,360.28 541.50,360.79 541.80,361.30 542.11,361.81 542.42,362.32 542.75,362.83 543.09,363.34 543.43,363.84 543.77,364.33 544.11,364.82 544.46,365.30 544.80,365.76 545.14,366.22 545.47,366.67 545.80,367.10 546.12,367.52 546.43,367.92 546.73,368.31 547.04,368.70 547.34,369.07 547.64,369.43 547.94,369.79 548.24,370.14 548.55,370.48 548.86,370.82 549.18,371.16 549.50,371.50 549.85,371.84 550.22,372.20 550.61,372.56 551.02,372.92 551.43,373.28 551.83,373.62 552.22,373.96 552.59,374.27 552.93,374.55 553.24,374.81 553.50,375.02 553.70,375.20" fill="none" stroke="#1c1c1c" stroke-width="2.4" stroke-linejoin="miter"/>
<polyline points="553.10,329.50 553.13,329.74 553.16,330.05 553.19,330.41 553.23,330.81 553.28,331.25 553.33,331.71 553.38,332.19 553.43,332.68 553.49,333.16 553.56,333.63 553.63,334.08 553.70,334.50 553.78,334.90 553.86,335.29 553.94,335.68 554.03,336.06 554.12,336.44 554.22,336.82 554.32,337.20 554.43,337.57 554.54,337.95 554.65,338.33 554.77,338.71 554.90,339.10 555.03,339.49 555.17,339.88 555.31,340.28 555.46,340.67 555.61,341.07 555.76,341.47 555.92,341.86 556.09,342.26 556.26,342.65 556.43,343.04 556.61,343.42 556.80,343.80 556.99,344.17 557.18,344.53 557.37,344.88 557.57,345.23 557.77,345.57 557.98,345.92 558.20,346.26 558.42,346.61 558.65,346.97 558.89,347.34 559.14,347.71 559.40,348.10 559.67,348.50 559.96,348.92 560.25,349.34 560.55,349.78 560.86,350.22 561.18,350.66 561.51,351.11 561.84,351.56 562.17,352.00 562.51,352.44 562.86,352.87 563.20,353.30 563.56,353.73 563.96,354.19 564.38,354.66 564.81,355.14 565.25,355.61 565.69,356.08 566.11,356.52 566.51,356.94 566.88,357.33 567.20,357.67 567.48,357.96 567.70,358.20" fill="none" stroke="#1c1c1c" stroke-width="2.4" stroke-linejoin="miter"/>
<polyline points="553.10,329.50 533.30,331.20" fill="none" stroke="#4a4a4a" stroke-width="0.75"/>
<polyline points="553.34,331.84 533.73,334.74" fill="none" stroke="#4a4a4a" stroke-width="0.75"/>
<polyline points="553.64,334.18 534.24,338.27" fill="none" stroke="#4a4a4a" stroke-width="0.75"/>
<polyline points="554.13,336.49 534.82,341.79" fill="none" stroke="#4a4a4a" stroke-width="0.75"/>
<polyline points="554.79,338.75 535.51,345.29" fill="none" stroke="#4a4a4a" stroke-width="0.75"/>
<polyline points="555.57,340.97 536.44,348.73" fill="none" stroke="#4a4a4a" stroke-width="0.75"/>
<polyline points="556.48,343.14 537.57,352.11" fill="none" stroke="#4a4a4a" stroke-width="0.75"/>
<polyline points="557.57,345.23 538.86,355.44" fill="none" stroke="#4a4a4a" stroke-width="0.75"/>
<polyline points="558.82,347.23 540.36,358.67" fill="none" stroke="#4a4a4a" stroke-width="0.75"/>
<polyline points="560.14,349.19 542.09,361.79" fill="none" stroke="#4a4a4a" stroke-width="0.75"/>
<polyline points="561.50,351.11 544.07,364.76" fill="none" stroke="#4a4a4a" stroke-width="0.75"/>
<polyline points="562.94,352.98 546.20,367.62" fill="none" stroke="#4a4a4a" stroke-width="0.75"/>
<polyline points="564.47,354.76 548.45,370.38" fill="none" stroke="#4a4a4a" stroke-width="0.75"/>
<polyline points="566.08,356.49 550.98,372.89" fill="none" stroke="#4a4a4a" stroke-width="0.75"/>
<polyline points="567.70,358.20 553.70,375.20" fill="none" stroke="#4a4a4a" stroke-width="0.75"/>
<polyline points="553.70,375.20 557.00,380.00 570.60,359.60 567.70,358.20" fill="none" stroke="#8a8a8a" stroke-width="0.8"/>
<polyline points="537.70,290.30 543.00,294.00" fill="none" stroke="#9a9a9a" stroke-width="0.9"/>
<polyline points="540.20,295.20 547.30,299.70" fill="none" stroke="#606060" stroke-width="0.9"/>
<polyline points="540.70,301.40 545.30,303.70" fill="none" stroke="#606060" stroke-width="0.9"/>
<polyline points="538.20,305.80 543.70,308.30" fill="none" stroke="#606060" stroke-width="0.9"/>
<polyline points="537.70,310.30 542.20,312.30" fill="none" stroke="#606060" stroke-width="0.9"/>
<polyline points="536.70,315.90 541.20,316.90" fill="none" stroke="#606060" stroke-width="0.9"/>
<polyline points="536.20,320.90 540.20,321.90" fill="none" stroke="#606060" stroke-width="0.9"/>
<polyline points="535.70,324.90 539.70,325.50" fill="none" stroke="#606060" stroke-width="0.9"/>
<polyline points="552.30,303.00 558.90,307.30" fill="none" stroke="#606060" stroke-width="0.9"/>
<polyline points="551.30,306.80 557.40,309.80" fill="none" stroke="#606060" stroke-width="0.9"/>
<polyline points="550.30,310.80 555.90,312.80" fill="none" stroke="#606060" stroke-width="0.9"/>
<polyline points="548.80,314.80 554.30,316.40" fill="none" stroke="#606060" stroke-width="0.9"/>
<polyline points="547.80,318.90 553.30,319.90" fill="none" stroke="#606060" stroke-width="0.9"/>
<polyline points="547.30,322.40 552.80,323.20" fill="none" stroke="#606060" stroke-width="0.9"/>
<polyline points="546.50,326.30 552.80,326.70" fill="none" stroke="#606060" stroke-width="0.9"/>
<polyline points="640.30,318.00 640.20,325.00 640.00,331.20 640.00,331.20 639.96,331.52 639.91,331.92 639.85,332.38 639.79,332.90 639.72,333.47 639.65,334.07 639.57,334.70 639.49,335.36 639.40,336.02 639.30,336.69 639.20,337.35 639.10,338.00 638.99,338.65 638.89,339.32 638.78,340.01 638.66,340.71 638.54,341.43 638.42,342.16 638.29,342.89 638.15,343.62 638.00,344.35 637.84,345.08 637.68,345.79 637.50,346.50 637.31,347.20 637.11,347.92 636.89,348.63 636.67,349.35 636.44,350.06 636.20,350.77 635.96,351.48 635.71,352.17 635.46,352.86 635.20,353.52 634.95,354.17 634.70,354.80 634.45,355.41 634.20,356.00 633.95,356.57 633.69,357.13 633.44,357.67 633.17,358.21 632.91,358.73 632.64,359.25 632.37,359.77 632.08,360.28 631.80,360.79 631.50,361.30 631.19,361.81 630.88,362.32 630.55,362.83 630.21,363.34 629.87,363.84 629.53,364.33 629.19,364.82 628.84,365.30 628.50,365.76 628.16,366.22 627.83,366.67 627.50,367.10 627.18,367.52 626.87,367.92 626.57,368.31 626.26,368.70 625.96,369.07 625.66,369.43 625.36,369.79 625.06,370.14 624.75,370.48 624.44,370.82 624.12,371.16 623.80,371.50 623.45,371.84 623.08,372.20 622.69,372.56 622.28,372.92 621.87,373.28 621.47,373.62 621.08,373.96 620.71,374.27 620.37,374.55 620.06,374.81 619.80,375.02 619.60,375.20" fill="none" stroke="#1c1c1c" stroke-width="2.4" stroke-linejoin="miter"/>
<polyline points="620.20,329.50 620.17,329.74 620.14,330.05 620.11,330.41 620.07,330.81 620.02,331.25 619.97,331.71 619.92,332.19 619.87,332.68 619.81,333.16 619.74,333.63 619.67,334.08 619.60,334.50 619.52,334.90 619.44,335.29 619.36,335.68 619.27,336.06 619.18,336.44 619.08,336.82 618.98,337.20 618.87,337.57 618.76,337.95 618.65,338.33 618.53,338.71 618.40,339.10 618.27,339.49 618.13,339.88 617.99,340.28 617.84,340.67 617.69,341.07 617.54,341.47 617.38,341.86 617.21,342.26 617.04,342.65 616.87,343.04 616.69,343.42 616.50,343.80 616.31,344.17 616.12,344.53 615.93,344.88 615.73,345.23 615.53,345.57 615.32,345.92 615.10,346.26 614.88,346.61 614.65,346.97 614.41,347.34 614.16,347.71 613.90,348.10 613.63,348.50 613.34,348.92 613.05,349.34 612.75,349.78 612.44,350.22 612.12,350.66 611.79,351.11 611.46,351.56 611.13,352.00 610.79,352.44 610.44,352.87 610.10,353.30 609.74,353.73 609.34,354.19 608.92,354.66 608.49,355.14 608.05,355.61 607.61,356.08 607.19,356.52 606.79,356.94 606.42,357.33 606.10,357.67 605.82,357.96 605.60,358.20" fill="none" stroke="#1c1c1c" stroke-width="2.4" stroke-linejoin="miter"/>
<polyline points="620.20,329.50 640.00,331.20" fill="none" stroke="#4a4a4a" stroke-width="0.75"/>
<polyline points="619.96,331.84 639.57,334.74" fill="none" stroke="#4a4a4a" stroke-width="0.75"/>
<polyline points="619.66,334.18 639.06,338.27" fill="none" stroke="#4a4a4a" stroke-width="0.75"/>
<polyline points="619.17,336.49 638.48,341.79" fill="none" stroke="#4a4a4a" stroke-width="0.75"/>
<polyline points="618.51,338.75 637.79,345.29" fill="none" stroke="#4a4a4a" stroke-width="0.75"/>
<polyline points="617.73,340.97 636.86,348.73" fill="none" stroke="#4a4a4a" stroke-width="0.75"/>
<polyline points="616.82,343.14 635.73,352.11" fill="none" stroke="#4a4a4a" stroke-width="0.75"/>
<polyline points="615.73,345.23 634.44,355.44" fill="none" stroke="#4a4a4a" stroke-width="0.75"/>
<polyline points="614.48,347.23 632.94,358.67" fill="none" stroke="#4a4a4a" stroke-width="0.75"/>
<polyline points="613.16,349.19 631.21,361.79" fill="none" stroke="#4a4a4a" stroke-width="0.75"/>
<polyline points="611.80,351.11 629.23,364.76" fill="none" stroke="#4a4a4a" stroke-width="0.75"/>
<polyline points="610.36,352.98 627.10,367.62" fill="none" stroke="#4a4a4a" stroke-width="0.75"/>
<polyline points="608.83,354.76 624.85,370.38" fill="none" stroke="#4a4a4a" stroke-width="0.75"/>
<polyline points="607.22,356.49 622.32,372.89" fill="none" stroke="#4a4a4a" stroke-width="0.75"/>
<polyline points="605.60,358.20 619.60,375.20" fill="none" stroke="#4a4a4a" stroke-width="0.75"/>
<polyline points="619.60,375.20 616.30,380.00 602.70,359.60 605.60,358.20" fill="none" stroke="#8a8a8a" stroke-width="0.8"/>
<polyline points="635.60,290.30 630.30,294.00" fill="none" stroke="#9a9a9a" stroke-width="0.9"/>
<polyline points="633.10,295.20 626.00,299.70" fill="none" stroke="#606060" stroke-width="0.9"/>
<polyline points="632.60,301.40 628.00,303.70" fill="none" stroke="#606060" stroke-width="0.9"/>
<polyline points="635.10,305.80 629.60,308.30" fill="none" stroke="#606060" stroke-width="0.9"/>
<polyline points="635.60,310.30 631.10,312.30" fill="none" stroke="#606060" stroke-width="0.9"/>
<polyline points="636.60,315.90 632.10,316.90" fill="none" stroke="#606060" stroke-width="0.9"/>
<polyline points="637.10,320.90 633.10,321.90" fill="none" stroke="#606060" stroke-width="0.9"/>
<polyline points="637.60,324.90 633.60,325.50" fill="none" stroke="#606060" stroke-width="0.9"/>
<polyline points="621.00,303.00 614.40,307.30" fill="none" stroke="#606060" stroke-width="0.9"/>
<polyline points="622.00,306.80 615.90,309.80" fill="none" stroke="#606060" stroke-width="0.9"/>
<polyline points="623.00,310.80 617.40,312.80" fill="none" stroke="#606060" stroke-width="0.9"/>
<polyline points="624.50,314.80 619.00,316.40" fill="none" stroke="#606060" stroke-width="0.9"/>
<polyline points="625.50,318.90 620.00,319.90" fill="none" stroke="#606060" stroke-width="0.9"/>
<polyline points="626.00,322.40 620.50,323.20" fill="none" stroke="#606060" stroke-width="0.9"/>
<polyline points="626.80,326.30 620.50,326.70" fill="none" stroke="#606060" stroke-width="0.9"/>
<text x="566" y="352" font-size="16" textLength="43" lengthAdjust="spacingAndGlyphs">Foyer</text>
<polyline points="543.00,360.00 543.00,411.00" fill="none" stroke="#8a8a8a" stroke-width="0.7"/>
<polyline points="545.50,372.00 545.50,411.00" fill="none" stroke="#8a8a8a" stroke-width="0.7"/>
<polyline points="628.30,372.00 628.30,411.00" fill="none" stroke="#8a8a8a" stroke-width="0.7"/>
<polyline points="630.80,360.00 630.80,411.00" fill="none" stroke="#8a8a8a" stroke-width="0.7"/>
<polyline points="541.50,360.00 541.50,372.00" fill="none" stroke="#1c1c1c" stroke-width="2.4" stroke-linejoin="miter"/>
<polyline points="631.50,360.00 631.50,373.00" fill="none" stroke="#1c1c1c" stroke-width="2.0" stroke-linejoin="miter"/>
<polyline points="630.00,400.00 640.50,390.50 634.50,388.00 640.50,385.00 631.50,383.50" fill="none" stroke="#5a5a5a" stroke-width="0.8"/>
<polyline points="544.00,400.50 544.00,412.00" fill="none" stroke="#1c1c1c" stroke-width="3.4" stroke-linejoin="miter"/>
<polyline points="630.00,400.00 630.00,412.00" fill="none" stroke="#1c1c1c" stroke-width="3.4" stroke-linejoin="miter"/>
<polyline points="476.00,411.00 495.00,411.00" fill="none" stroke="#1c1c1c" stroke-width="2.2" stroke-linejoin="miter"/>
<polyline points="512.00,411.00 546.00,411.00" fill="none" stroke="#1c1c1c" stroke-width="2.2" stroke-linejoin="miter"/>
<polyline points="560.00,411.00 574.00,411.00" fill="none" stroke="#1c1c1c" stroke-width="2.4" stroke-linejoin="miter"/>
<polyline points="598.00,411.00 612.00,411.00" fill="none" stroke="#1c1c1c" stroke-width="2.4" stroke-linejoin="miter"/>
<polyline points="627.00,411.00 661.00,411.00" fill="none" stroke="#1c1c1c" stroke-width="2.2" stroke-linejoin="miter"/>
<polyline points="680.00,411.00 696.00,411.00" fill="none" stroke="#1c1c1c" stroke-width="2.2" stroke-linejoin="miter"/>
<polyline points="476.00,413.60 696.00,413.60" fill="none" stroke="#8a8a8a" stroke-width="0.7"/>
<polyline points="495.00,410.30 512.00,410.30" fill="none" stroke="#5a5a5a" stroke-width="0.8"/>
<polyline points="546.00,410.30 560.00,410.30" fill="none" stroke="#5a5a5a" stroke-width="0.8"/>
<polyline points="612.00,410.30 627.00,410.30" fill="none" stroke="#5a5a5a" stroke-width="0.8"/>
<polyline points="661.00,410.30 680.00,410.30" fill="none" stroke="#5a5a5a" stroke-width="0.8"/>
<polyline points="574.00,410.30 598.00,410.30" fill="none" stroke="#5a5a5a" stroke-width="0.8"/>
<polyline points="579.00,411.00 585.00,400.00 594.00,411.00" fill="none" stroke="#5a5a5a" stroke-width="0.8"/>
<polyline points="579.00,409.00 579.00,413.00" fill="none" stroke="#1c1c1c" stroke-width="1.4" stroke-linejoin="miter"/>
<polyline points="594.00,409.00 594.00,413.00" fill="none" stroke="#1c1c1c" stroke-width="1.4" stroke-linejoin="miter"/>
<polyline points="648.21,413.44 648.29,417.65 648.09,421.86 647.60,426.04 646.82,430.18 645.77,434.26 644.45,438.26 642.86,442.16 641.01,445.95 638.91,449.60 636.56,453.10 633.99,456.43 631.19,459.58 628.19,462.54 625.00,465.29 621.62,467.81 618.09,470.10 614.40,472.15 610.59,473.94 606.67,475.47 602.65,476.73 598.55,477.72 594.40,478.43 590.21,478.86 586.00,479.00 581.79,478.86 577.60,478.43 573.45,477.72 569.35,476.73 565.33,475.47 561.41,473.94 557.60,472.15 553.91,470.10 550.38,467.81 547.00,465.29 543.81,462.54 540.81,459.58 538.01,456.43 535.44,453.10 533.09,449.60 530.99,445.95 529.14,442.16 527.55,438.26 526.23,434.26 525.18,430.18 524.40,426.04 523.91,421.86 523.71,417.65 523.79,413.44" fill="none" stroke="#5a5a5a" stroke-width="0.9"/>
<polyline points="641.99,415.72 641.93,419.43 641.63,423.12 641.08,426.79 640.30,430.41 639.27,433.97 638.01,437.45 636.53,440.85 634.82,444.13 632.90,447.30 630.77,450.34 628.45,453.22 625.94,455.95 623.26,458.51 620.41,460.88 617.42,463.06 614.28,465.03 611.02,466.80 607.66,468.34 604.19,469.66 600.65,470.75 597.04,471.60 593.39,472.21 589.70,472.58 586.00,472.70 582.30,472.58 578.61,472.21 574.96,471.60 571.35,470.75 567.81,469.66 564.34,468.34 560.98,466.80 557.72,465.03 554.58,463.06 551.59,460.88 548.74,458.51 546.06,455.95 543.55,453.22 541.23,450.34 539.10,447.30 537.18,444.13 535.47,440.85 533.99,437.45 532.73,433.97 531.70,430.41 530.92,426.79 530.37,423.12 530.07,419.43 530.01,415.72" fill="none" stroke="#5a5a5a" stroke-width="0.9"/>
<rect x="525.20" y="415.70" width="5.6" height="5.6" fill="#fff" stroke="#5a5a5a" stroke-width="0.9"/>
<circle cx="528.00" cy="418.50" r="1.60" fill="none" stroke="#5a5a5a" stroke-width="0.8"/>
<rect x="536.00" y="447.70" width="5.6" height="5.6" fill="#fff" stroke="#5a5a5a" stroke-width="0.9"/>
<circle cx="538.80" cy="450.50" r="1.60" fill="none" stroke="#5a5a5a" stroke-width="0.8"/>
<rect x="564.70" y="470.00" width="5.6" height="5.6" fill="#fff" stroke="#5a5a5a" stroke-width="0.9"/>
<circle cx="567.50" cy="472.80" r="1.60" fill="none" stroke="#5a5a5a" stroke-width="0.8"/>
<rect x="601.20" y="470.00" width="5.6" height="5.6" fill="#fff" stroke="#5a5a5a" stroke-width="0.9"/>
<circle cx="604.00" cy="472.80" r="1.60" fill="none" stroke="#5a5a5a" stroke-width="0.8"/>
<rect x="630.70" y="447.70" width="5.6" height="5.6" fill="#fff" stroke="#5a5a5a" stroke-width="0.9"/>
<circle cx="633.50" cy="450.50" r="1.60" fill="none" stroke="#5a5a5a" stroke-width="0.8"/>
<rect x="641.20" y="415.70" width="5.6" height="5.6" fill="#fff" stroke="#5a5a5a" stroke-width="0.9"/>
<circle cx="644.00" cy="418.50" r="1.60" fill="none" stroke="#5a5a5a" stroke-width="0.8"/>
<text x="571" y="444.8" font-size="16" textLength="31.5" lengthAdjust="spacingAndGlyphs">Por.</text>
<polyline points="695.00,274.00 695.00,411.00" fill="none" stroke="#1c1c1c" stroke-width="2.4" stroke-linejoin="miter"/>
<polyline points="690.00,336.00 690.00,411.00" fill="none" stroke="#8a8a8a" stroke-width="0.7"/>
<polyline points="690.00,395.00 683.00,388.00" fill="none" stroke="#8a8a8a" stroke-width="0.7"/>
<polyline points="684.00,367.00 695.00,367.00" fill="none" stroke="#8a8a8a" stroke-width="0.7"/>
<polyline points="690.00,377.00 695.00,377.00" fill="none" stroke="#8a8a8a" stroke-width="0.7"/>
<text x="640.5" y="370.3" font-size="16" textLength="46.5" lengthAdjust="spacingAndGlyphs">Study</text>
<text x="632" y="383.5" font-size="14.3" textLength="60" lengthAdjust="spacingAndGlyphs">14' x 18'</text>
<polyline points="640.20,304.00 640.20,336.50" fill="none" stroke="#1c1c1c" stroke-width="2.4" stroke-linejoin="miter"/>
<polyline points="640.00,307.80 657.00,307.80" fill="none" stroke="#1c1c1c" stroke-width="2.2" stroke-linejoin="miter"/>
<polyline points="670.50,307.80 695.00,307.80" fill="none" stroke="#1c1c1c" stroke-width="2.2" stroke-linejoin="miter"/>
<polyline points="671.70,307.80 671.70,332.00" fill="none" stroke="#1c1c1c" stroke-width="2.2" stroke-linejoin="miter"/>
<polyline points="640.00,332.00 695.00,332.00" fill="none" stroke="#1c1c1c" stroke-width="2.0" stroke-linejoin="miter"/>
<polyline points="640.00,336.30 695.00,336.30" fill="none" stroke="#5a5a5a" stroke-width="0.8"/>
<polyline points="642.80,332.00 642.80,336.50" fill="none" stroke="#1c1c1c" stroke-width="2.4" stroke-linejoin="miter"/>
<polyline points="659.30,332.00 659.30,336.50" fill="none" stroke="#1c1c1c" stroke-width="2.4" stroke-linejoin="miter"/>
<polyline points="675.00,332.00 675.00,336.50" fill="none" stroke="#1c1c1c" stroke-width="2.4" stroke-linejoin="miter"/>
<polyline points="657.00,308.00 661.00,316.00 670.50,308.00" fill="none" stroke="#5a5a5a" stroke-width="0.8"/>
<path d="M646 321 a3.6 4.6 0 0 1 7.2 0 v7 h-7.2 z" fill="none" stroke="#5a5a5a" stroke-width="0.8"/>
<circle cx="662.3" cy="326.5" r="2.4" fill="none" stroke="#5a5a5a" stroke-width="0.9"/>
<polyline points="658.50,323.00 666.00,323.00 666.00,330.00 658.50,330.00 658.50,323.00" fill="none" stroke="#8a8a8a" stroke-width="0.7"/>
<polyline points="638.00,288.00 648.00,288.00" fill="none" stroke="#1c1c1c" stroke-width="2.4" stroke-linejoin="miter"/>
<polyline points="639.30,288.00 639.30,304.00" fill="none" stroke="#1c1c1c" stroke-width="2.0" stroke-linejoin="miter"/>
<polyline points="638.00,288.00 638.00,304.00" fill="none" stroke="#8a8a8a" stroke-width="0.7"/>
<polyline points="648.00,276.00 652.00,276.00" fill="none" stroke="#1c1c1c" stroke-width="2.4" stroke-linejoin="miter"/>
<polyline points="652.00,275.00 670.00,275.00" fill="none" stroke="#8a8a8a" stroke-width="0.7"/>
<polyline points="652.00,277.30 670.00,277.30" fill="none" stroke="#8a8a8a" stroke-width="0.7"/>
<polyline points="669.00,276.00 695.00,276.00" fill="none" stroke="#1c1c1c" stroke-width="2.4" stroke-linejoin="miter"/>
<polyline points="672.00,257.30 672.00,277.00" fill="none" stroke="#1c1c1c" stroke-width="2.4" stroke-linejoin="miter"/>
<polyline points="694.50,257.00 694.50,277.00" fill="none" stroke="#1c1c1c" stroke-width="2.0" stroke-linejoin="miter"/>
<polyline points="670.50,258.00 676.50,258.00" fill="none" stroke="#1c1c1c" stroke-width="2.4" stroke-linejoin="miter"/>
<polyline points="690.00,258.00 696.50,258.00" fill="none" stroke="#1c1c1c" stroke-width="2.4" stroke-linejoin="miter"/>
<polyline points="675.50,260.00 675.50,275.00" fill="none" stroke="#8a8a8a" stroke-width="0.7"/>
<polyline points="691.00,260.00 691.00,275.00" fill="none" stroke="#8a8a8a" stroke-width="0.7"/>
<polyline points="649.50,259.50 656.00,252.80 660.00,258.00 663.80,252.80 669.00,259.50" fill="none" stroke="#5a5a5a" stroke-width="0.8"/>
<polyline points="676.50,258.00 681.00,252.80 683.30,255.00 686.30,252.80 690.00,258.00" fill="none" stroke="#5a5a5a" stroke-width="0.8"/>
<polyline points="672.00,280.50 661.50,288.00 672.00,293.30" fill="none" stroke="#5a5a5a" stroke-width="0.8"/>
<polyline points="672.00,295.50 664.50,303.00 672.00,306.80" fill="none" stroke="#5a5a5a" stroke-width="0.8"/>
<polyline points="672.00,293.30 695.00,293.30" fill="none" stroke="#1c1c1c" stroke-width="2.0" stroke-linejoin="miter"/>
<polyline points="672.00,306.80 695.00,306.80" fill="none" stroke="#1c1c1c" stroke-width="2.0" stroke-linejoin="miter"/>
<polyline points="690.00,294.00 690.00,306.00" fill="none" stroke="#8a8a8a" stroke-width="0.7"/>
<polyline points="649.00,207.00 660.00,195.00" fill="none" stroke="#5a5a5a" stroke-width="1.0" stroke-linejoin="miter"/>
<polyline points="660.00,195.50 687.00,168.30" fill="none" stroke="#1c1c1c" stroke-width="2.2" stroke-linejoin="miter"/>
<polyline points="650.50,204.00 659.00,195.50" fill="none" stroke="#8a8a8a" stroke-width="0.7"/>
<polyline points="661.50,190.50 685.00,167.00" fill="none" stroke="#8a8a8a" stroke-width="0.7"/>
<polygon points="690.00,168.50 711.00,168.50 711.00,165.50 690.00,165.50" fill="#d2d2d2" stroke="#5a5a5a" stroke-width="0.7"/>
<polyline points="711.20,167.40 718.80,174.20 725.20,165.60 739.00,179.60 735.30,183.40 732.00,183.00 731.60,184.60 736.30,189.60" fill="none" stroke="#1c1c1c" stroke-width="2.0" stroke-linejoin="miter"/>
<polyline points="721.00,169.00 725.30,161.60 742.70,179.40 737.50,184.90" fill="none" stroke="#8a8a8a" stroke-width="0.7"/>
<polyline points="713.00,170.00 713.00,177.00 720.00,184.00 730.00,184.00" fill="none" stroke="#8a8a8a" stroke-width="0.7"/>
<polyline points="736.80,189.40 736.80,228.70 740.50,228.70 740.50,244.50" fill="none" stroke="#1c1c1c" stroke-width="2.2" stroke-linejoin="miter"/>
<polyline points="736.50,216.80 695.00,258.80" fill="none" stroke="#1c1c1c" stroke-width="2.6" stroke-linejoin="miter"/>
<polyline points="670.00,259.00 676.00,259.00" fill="none" stroke="#1c1c1c" stroke-width="2.2" stroke-linejoin="miter"/>
<polyline points="690.00,259.00 696.00,259.00" fill="none" stroke="#1c1c1c" stroke-width="2.2" stroke-linejoin="miter"/>
<polyline points="660.00,196.00 668.00,205.00 657.00,205.00" fill="none" stroke="#8a8a8a" stroke-width="0.7"/>
<polygon points="658.00,206.00 689.00,175.00 712.00,175.00 728.00,191.00 728.00,213.00 695.00,246.00 658.00,246.00" fill="none" stroke="#8a8a8a" stroke-width="0.8"/>
<polygon points="662.00,208.00 691.00,179.00 710.00,179.00 724.00,193.00 724.00,211.00 693.00,242.00 662.00,242.00" fill="none" stroke="#8a8a8a" stroke-width="0.8"/>
<polyline points="654.00,206.00 687.50,172.00 713.00,172.00" fill="none" stroke="#8a8a8a" stroke-width="0.7"/>
<text x="667" y="209.8" font-size="16" textLength="55" lengthAdjust="spacingAndGlyphs">Master</text>
<text x="665" y="224" font-size="14.3" textLength="58" lengthAdjust="spacingAndGlyphs">15' x 25'</text>
<polyline points="736.00,189.60 772.00,189.60" fill="none" stroke="#1c1c1c" stroke-width="2.3" stroke-linejoin="miter"/>
<polyline points="771.50,189.00 771.50,350.00" fill="none" stroke="#1c1c1c" stroke-width="2.6" stroke-linejoin="miter"/>
<polyline points="774.80,190.00 774.80,350.00" fill="none" stroke="#8a8a8a" stroke-width="0.7"/>
<polyline points="741.00,193.90 767.50,193.90 767.50,243.00" fill="none" stroke="#8a8a8a" stroke-width="0.7"/>
<polyline points="740.90,193.90 740.90,228.00" fill="none" stroke="#8a8a8a" stroke-width="0.7"/>
<polyline points="747.20,193.90 747.20,197.20 760.70,197.20 760.70,193.90" fill="none" stroke="#8a8a8a" stroke-width="0.7"/>
<polyline points="709.50,244.30 714.60,244.30" fill="none" stroke="#1c1c1c" stroke-width="2.4" stroke-linejoin="miter"/>
<polyline points="725.90,244.30 741.50,244.30" fill="none" stroke="#1c1c1c" stroke-width="2.4" stroke-linejoin="miter"/>
<polyline points="754.00,244.30 771.50,244.30" fill="none" stroke="#1c1c1c" stroke-width="2.4" stroke-linejoin="miter"/>
<polyline points="714.60,244.50 718.00,250.10 725.90,244.50" fill="none" stroke="#5a5a5a" stroke-width="0.8"/>
<polyline points="742.20,243.40 749.50,235.50 752.30,238.30 754.00,244.50" fill="none" stroke="#5a5a5a" stroke-width="0.8"/>
<path d="M733 233.4 h4.5 v7.6 h-4.5 a3.4 3.8 0 0 1 0 -7.6 z" fill="none" stroke="#5a5a5a" stroke-width="0.8"/>
<polyline points="735.70,233.80 735.70,240.60" fill="none" stroke="#8a8a8a" stroke-width="0.7"/>
<polyline points="724.00,231.20 739.50,231.20" fill="none" stroke="#8a8a8a" stroke-width="0.7"/>
<polyline points="762.00,244.00 762.00,255.00" fill="none" stroke="#8a8a8a" stroke-width="0.7"/>
<polyline points="767.00,244.00 767.00,255.00" fill="none" stroke="#8a8a8a" stroke-width="0.7"/>
<path d="M717 264 H750.5 V281.5 H717 A8.75 8.75 0 0 1 717 264 Z" fill="none" stroke="#8a8a8a" stroke-width="0.8"/>
<ellipse cx="730" cy="268.3" rx="3.2" ry="2.4" fill="none" stroke="#5a5a5a" stroke-width="0.9"/>
<ellipse cx="739.7" cy="277.8" rx="3.2" ry="2.4" fill="none" stroke="#5a5a5a" stroke-width="0.9"/>
<polyline points="714.00,273.00 748.50,273.00" fill="none" stroke="#5a5a5a" stroke-width="0.8"/>
<polyline points="713.50,271.00 713.50,275.00" fill="none" stroke="#1c1c1c" stroke-width="1.6" stroke-linejoin="miter"/>
<polyline points="749.00,271.00 749.00,275.00" fill="none" stroke="#1c1c1c" stroke-width="1.6" stroke-linejoin="miter"/>
<polyline points="760.20,255.10 751.30,264.10 771.40,282.00 760.20,291.60 751.30,283.20 771.40,264.10 760.20,255.10" fill="none" stroke="#444" stroke-width="0.9"/>
<polyline points="760.20,255.10 771.40,255.10" fill="none" stroke="#8a8a8a" stroke-width="0.8"/>
<polyline points="751.30,257.00 751.30,290.00" fill="none" stroke="#8a8a8a" stroke-width="0.7"/>
<polyline points="750.30,255.50 752.50,260.50" fill="none" stroke="#8a8a8a" stroke-width="0.7"/>
<polyline points="750.50,288.50 753.00,284.50" fill="none" stroke="#8a8a8a" stroke-width="0.7"/>
<circle cx="761.3" cy="273.3" r="0.9" fill="none" stroke="#333" stroke-width="0.9"/>
<polyline points="770.60,265.20 773.00,265.20" fill="none" stroke="#1c1c1c" stroke-width="2.4" stroke-linejoin="miter"/>
<polyline points="770.60,279.80 773.00,279.80" fill="none" stroke="#1c1c1c" stroke-width="2.4" stroke-linejoin="miter"/>
<polyline points="770.60,292.00 773.00,292.00" fill="none" stroke="#1c1c1c" stroke-width="2.4" stroke-linejoin="miter"/>
<polygon points="760.20,293.10 771.00,293.10 771.00,290.50 760.20,290.50" fill="#d2d2d2" stroke="#5a5a5a" stroke-width="0.7"/>
<path d="M756 297 H765 Q769.5 297 769.5 301.5 V311 Q769.5 315.5 765 315.5 H756 Q751.5 315.5 751.5 311 V304 Q751.5 299 756 297 Z" fill="none" stroke="#5a5a5a" stroke-width="0.9"/>
<polyline points="756.50,296.00 744.50,307.50 744.50,317.00" fill="none" stroke="#8a8a8a" stroke-width="0.7"/>
<polyline points="695.00,318.00 727.00,318.00" fill="none" stroke="#1c1c1c" stroke-width="2.4" stroke-linejoin="miter"/>
<polyline points="741.50,318.00 771.50,318.00" fill="none" stroke="#1c1c1c" stroke-width="2.4" stroke-linejoin="miter"/>
<polyline points="727.00,318.00 731.00,323.00 734.00,320.00 737.00,323.00 741.50,318.00" fill="none" stroke="#5a5a5a" stroke-width="0.8"/>
<polyline points="721.00,310.50 721.00,318.00" fill="none" stroke="#1c1c1c" stroke-width="2.0" stroke-linejoin="miter"/>
<path d="M697 307.5 h6 a3.8 3.6 0 0 1 0 7.2 h-6 z" fill="none" stroke="#5a5a5a" stroke-width="0.8"/>
<polyline points="695.00,300.80 707.00,300.80" fill="none" stroke="#1c1c1c" stroke-width="2.0" stroke-linejoin="miter"/>
<polyline points="696.50,285.00 706.00,297.50 706.00,300.00" fill="none" stroke="#5a5a5a" stroke-width="0.8"/>
<polyline points="700.00,289.00 706.50,287.50 707.50,293.00" fill="none" stroke="#8a8a8a" stroke-width="0.7"/>
<polyline points="695.00,274.50 695.00,280.00" fill="none" stroke="#1c1c1c" stroke-width="2.4" stroke-linejoin="miter"/>
<polyline points="695.00,349.00 772.50,349.00" fill="none" stroke="#1c1c1c" stroke-width="2.2" stroke-linejoin="miter"/>
<polyline points="695.00,351.80 774.80,351.80" fill="none" stroke="#8a8a8a" stroke-width="0.7"/>
<polyline points="697.50,320.50 726.00,320.50" fill="none" stroke="#8a8a8a" stroke-width="0.7"/>
<polyline points="742.00,320.50 769.00,320.50" fill="none" stroke="#8a8a8a" stroke-width="0.7"/>
<polyline points="697.80,320.50 697.80,346.50 769.00,346.50 769.00,320.50" fill="none" stroke="#8a8a8a" stroke-width="0.7"/>
<rect x="725" y="342.5" width="16.5" height="6.5" fill="#fff" stroke="#8a8a8a" stroke-width="0.7"/>
</svg>
</body></html>
